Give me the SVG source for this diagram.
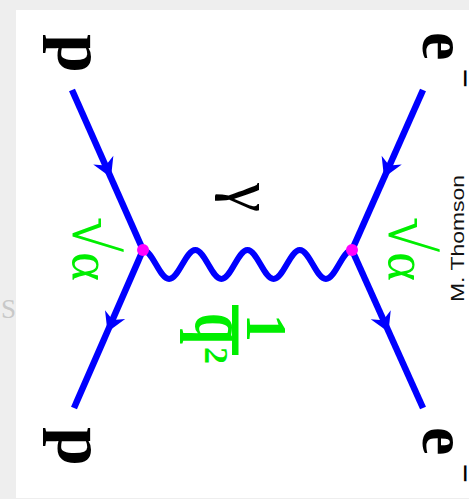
<svg xmlns="http://www.w3.org/2000/svg" xmlns:xlink="http://www.w3.org/1999/xlink" width="469" height="499" viewBox="0 0 469 499">
<style>
.bg{fill:#eeeeee}
.panel{fill:#ffffff}
.fermion{stroke:#0000ff;stroke-width:6.5;fill:none;stroke-linecap:butt}
.photon{stroke:#0000ff;stroke-width:6;fill:none;stroke-linejoin:round}
.arrow{fill:#0000ff}
.vertex{fill:#ff00ff}
.lab{font-family:"Liberation Serif","Times New Roman",serif;font-weight:bold;fill:#000000}
.greek{font-family:"Liberation Serif","Times New Roman",serif;fill:#000000}
.green{font-family:"Liberation Serif","Times New Roman",serif;fill:#00ee00}
.greenb{font-family:"Liberation Serif","Times New Roman",serif;font-weight:bold;fill:#00ee00}
.credit{font-family:"Liberation Sans",Arial,sans-serif;fill:#111111}
</style>
<defs>
<path id="ah" d="M0,0 L-19,-11 L-13,0 L-19,11 Z"/>
</defs>
<rect class="bg" x="0" y="0" width="469" height="499"/>
<text x="1" y="318" font-family="Liberation Serif, serif" font-size="27" fill="#c8c8c8">S</text>
<rect class="panel" x="16" y="10" width="453" height="488"/>

<g id="connectors">
<line class="fermion" x1="72" y1="90" x2="143" y2="250"/>
<line class="fermion" x1="423" y1="90" x2="352" y2="250"/>
<line class="fermion" x1="143" y1="250" x2="74" y2="408"/>
<line class="fermion" x1="352" y1="250" x2="423" y2="408"/>
<path class="photon" d="M143,250 C152.5,250 159.6,279 169.1,279 S185.8,250 195.3,250 S211.9,279 221.4,279 S238,250 247.5,250 S264.1,279 273.6,279 S290.3,250 299.8,250 S316.4,279 325.9,279 S342.5,250 352,250"/>
<use class="arrow" xlink:href="#ah" href="#ah" transform="translate(111,177.5) rotate(66.1)"/>
<use class="arrow" xlink:href="#ah" href="#ah" transform="translate(384,177.5) rotate(113.9)"/>
<use class="arrow" xlink:href="#ah" href="#ah" transform="translate(107.5,332) rotate(113.6)"/>
<use class="arrow" xlink:href="#ah" href="#ah" transform="translate(388.5,332) rotate(65.8)"/>
</g>

<g id="vertex-p"><circle class="vertex" cx="143" cy="250" r="6"/></g>
<g id="vertex-e"><circle class="vertex" cx="352" cy="250" r="6"/></g>

<g id="p-in"><text class="lab" font-size="70" transform="translate(58,34) rotate(90)">p</text></g>
<g id="p-out"><text class="lab" font-size="70" transform="translate(58,427) rotate(90)">p</text></g>
<g id="e-in"><text class="lab" font-size="64" transform="translate(423,32) rotate(90)">e<tspan font-size="34" dx="8" dy="-31">−</tspan></text></g>
<g id="e-out"><text class="lab" font-size="64" transform="translate(423,427) rotate(90)">e<tspan font-size="34" dx="8" dy="-31">−</tspan></text></g>

<g id="photon-label"><text class="greek" font-size="66" transform="translate(229,183) rotate(90)">γ</text></g>
<g id="coupling-p"><text class="green" font-size="55" transform="translate(73,217) rotate(90)"><tspan font-size="64">√</tspan>α</text></g>
<g id="coupling-e"><text class="green" font-size="55" transform="translate(389,217) rotate(90)"><tspan font-size="64">√</tspan>α</text></g>
<g id="propagator">
<text class="greenb" font-size="56" transform="translate(247,314) rotate(90)">1</text>
<rect x="232" y="305" width="6.5" height="50" fill="#00ee00"/>
<text class="greenb" font-size="56" transform="translate(196,313) rotate(90) scale(1,1.35)">q</text>
<text class="greenb" font-size="34" transform="translate(205,347) rotate(90)">2</text>
</g>
<g id="credit"><text class="credit" font-size="18" textLength="127" lengthAdjust="spacingAndGlyphs" transform="translate(464,302) rotate(-90)">M. Thomson</text></g>
</svg>
